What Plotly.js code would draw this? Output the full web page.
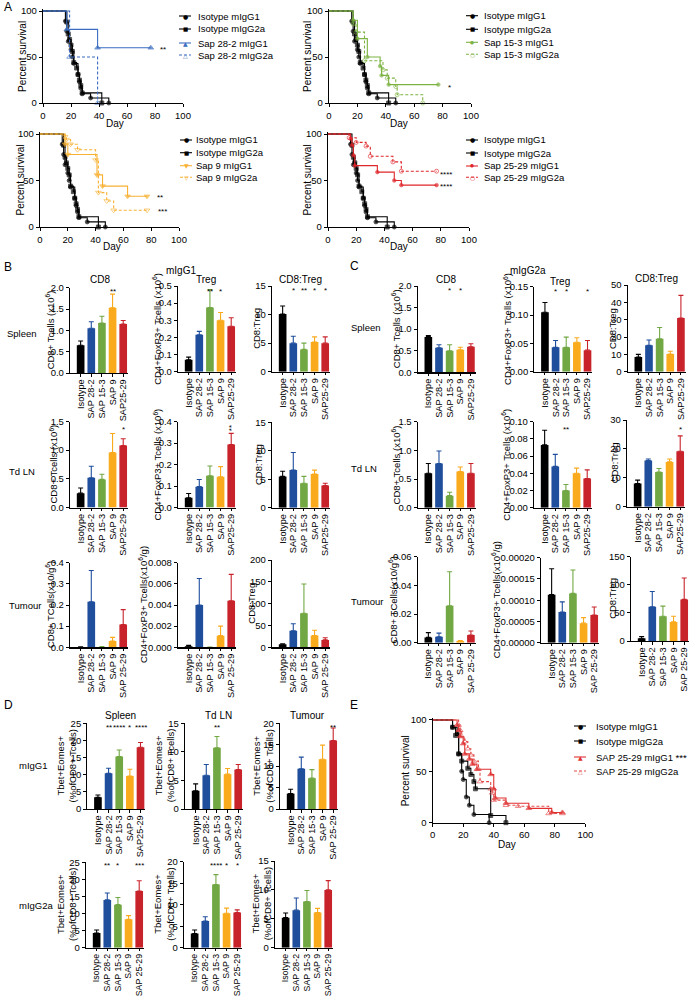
<!DOCTYPE html>
<html><head><meta charset="utf-8">
<script src="https://cdn.plot.ly/plotly-3.0.1.min.js"></script>
<style>html,body{margin:0;padding:0;background:#fff}#chart{width:692px;height:997px}</style>
</head><body><div id="chart"></div>
<script>
// ================= DATA =================
// Survival (Kaplan-Meier) curves: day of event, percent survival
const iso_g1_day  = [0,16,17,18,20,21,22,25,26,27,28,34,47];
const iso_g1_surv = [100,89,78,67,58,50,43,31,23,16,10,5.5,0];
const iso_g2a_day  = [0,17,18,19,20,21,22,24,25,26,27,28,42];
const iso_g2a_surv = [100,88,75,69,63,56,44,38,31,25,19,11,0];

const sap28_g1_day = [0,17,39,77];
const sap28_g1_surv = [100,80,60,60];
const sap28_g2a_day = [0,19,39];
const sap28_g2a_surv = [100,50,0];

const sap15_g1_day = [0,17,20,27,36,37,42,77];
const sap15_g1_surv = [100,90,70,50,40,30,20,20];
const sap15_g2a_day = [0,17,19,25,38,41,47,48,66];
const sap15_g2a_surv = [100,86,77,46,36,27,18,9,0];

const sap9_g1_day = [0,18,20,41,45,63,77];
const sap9_g1_surv = [100,89,78,56,44,33,33];
const sap9_g2a_day = [0,18,19,22,27,40,42,48,53,77];
const sap9_g2a_surv = [100,97,94,89,83,72,37,28,18,18];

const sap2529_g1_day = [0,16,17,18,19,35,47,52,77];
const sap2529_g1_surv = [100,95,88,77,66,59,50,45,45];
const sap2529_g2a_day = [0,15,20,27,30,46,52,77];
const sap2529_g2a_surv = [100,96,91,87,76,70,60,60];

// Panel E survival
const E_iso_g1_day  = [0,13,16,17,19,20,22,24,27,37];
const E_iso_g1_surv = [100,93,87,67,50,42,25,17,8,0];
const E_iso_g2a_day  = [0,13,15,17,19,23,25,27,28,38,48];
const E_iso_g2a_surv = [100,93,85,67,60,53,47,40,33,7,0];
const E_sap_g1_day  = [0,16,17,18,20,21,24,26,29,38,40,41,48,63,78,85];
const E_sap_g1_surv = [100,95,90,84,77,67,62,57,52,47,33,24,19,14,10,10];
const E_sap_g2a_day  = [0,17,18,19,21,23,25,27,30,31,38,39,40,48,56,76,85];
const E_sap_g2a_surv = [100,95,90,84,79,72,66,60,52,40,33,29,22,17,16,9,9];

// Bar chart categories
const cats  = ['Isotype','SAP 28-2','SAP 15-3','SAP 9','SAP25-29'];
const catsT = ['Isotype','SAP 28-2','SAP 15-3','SAP 9','SAP 25-29'];

// Panel B (mIgG1): mean and SEM
const B_spleen_CD8 = [0.65,1.05,1.17,1.53,1.15];
const B_spleen_CD8_err = [0.10,0.15,0.16,0.32,0.08];
const B_spleen_Treg = [0.07,0.215,0.375,0.30,0.265];
const B_spleen_Treg_err = [0.015,0.02,0.105,0.045,0.05];
const B_spleen_ratio = [10.1,5.0,3.9,5.2,5.0];
const B_spleen_ratio_err = [1.4,1.2,1.1,0.9,1.1];
const B_td_CD8 = [0.25,0.52,0.49,0.96,1.08];
const B_td_CD8_err = [0.09,0.20,0.09,0.33,0.12];
const B_td_Treg = [0.045,0.097,0.148,0.143,0.293];
const B_td_Treg_err = [0.02,0.033,0.045,0.047,0.052];
const B_td_ratio = [5.5,6.6,4.3,5.9,3.9];
const B_td_ratio_err = [0.9,3.1,1.2,0.7,0.4];
const B_tu_CD8 = [0.001,0.215,0.002,0.03,0.108];
const B_tu_CD8_err = [0.001,0.148,0.001,0.017,0.07];
const B_tu_Treg = [0.0001,0.004,0.00002,0.0011,0.0044];
const B_tu_Treg_err = [0.0001,0.0025,0,0.0009,0.0025];
const B_tu_ratio = [7,38,78,27,17];
const B_tu_ratio_err = [1,16,67,12,5];

// Panel C (mIgG2a): mean and SEM
const C_spleen_CD8 = [0.82,0.57,0.50,0.52,0.59];
const C_spleen_CD8_err = [0.03,0.07,0.14,0.06,0.07];
const C_spleen_Treg = [0.105,0.043,0.043,0.052,0.038];
const C_spleen_Treg_err = [0.017,0.012,0.018,0.008,0.017];
const C_spleen_ratio = [8.5,15.2,19,10.2,31];
const C_spleen_ratio_err = [1.5,3.1,6.5,1.6,13];
const C_td_CD8 = [0.60,0.77,0.21,0.63,0.60];
const C_td_CD8_err = [0.17,0.22,0.06,0.08,0.17];
const C_td_Treg = [0.073,0.048,0.020,0.040,0.034];
const C_td_Treg_err = [0.017,0.014,0.007,0.006,0.010];
const C_td_ratio = [8.0,16.0,12.0,15.5,19.2];
const C_td_ratio_err = [1.2,0.5,1.2,1.0,5.3];
const C_tu_CD8 = [0.0037,0.0042,0.0258,0.0012,0.0054];
const C_tu_CD8_err = [0.0033,0.0025,0.0237,0.0003,0.0028];
const C_tu_Treg = [0.000113,0.000072,0.000116,0.000046,0.000065];
const C_tu_Treg_err = [0.000061,0.000024,0.000055,0.000013,0.000019];
const C_tu_ratio = [5,61,44,34,74];
const C_tu_ratio_err = [3,27,18,10,38];

// Panel D: Tbet+Eomes+ (% of CD8+ T cells)
const D_g1_spleen = [3.4,10.4,15.3,9.6,18.0];
const D_g1_spleen_err = [0.7,1.5,1.9,2.0,1.4];
const D_g1_td = [3.2,5.9,10.7,6.1,6.9];
const D_g1_td_err = [1.2,1.9,2.0,1.0,0.9];
const D_g1_tu = [3.6,9.4,7.2,11.6,16.0];
const D_g1_tu_err = [1.0,2.7,2.0,3.3,2.9];
const D_g2a_spleen = [4.3,14.0,12.6,8.3,16.6];
const D_g2a_spleen_err = [0.9,2.0,2.1,1.1,3.0];
const D_g2a_td = [3.3,6.2,14.7,8.0,8.2];
const D_g2a_td_err = [0.8,1.0,2.3,1.2,0.6];
const D_g2a_tu = [5.2,6.5,8.0,6.1,10.0];
const D_g2a_tu_err = [0.8,2.1,1.9,0.7,1.6];

// ================= LAYOUT HELPERS =================
const W = 692, H = 997;
const px = x => x / W;
const py = y => 1 - y / H;
const FONT = 'Liberation Sans, Arial, Helvetica, sans-serif';
const barColors = ['#000000','#1f4e9d','#72a844','#f9aa1d','#c8232b'];

const data = [];
const layout = {
  width: W, height: H, margin:{l:0,r:0,t:0,b:0},
  paper_bgcolor:'#ffffff', plot_bgcolor:'rgba(0,0,0,0)',
  showlegend:false, barmode:'overlay',
  font:{family:FONT, size:9.5, color:'#000'},
  annotations:[], shapes:[]
};
const baseAxis = {showline:true, linecolor:'#000', linewidth:1.2, ticks:'outside', ticklen:3,
  tickwidth:1, tickcolor:'#000', showgrid:false, zeroline:false, fixedrange:true,
  tickfont:{size:9.5, color:'#000', family:FONT}};

let axCount = 0;
function makeAxes(xd, yd, xo, yo){
  axCount++;
  const s = axCount === 1 ? '' : String(axCount);
  layout['xaxis'+s] = Object.assign({}, baseAxis, {domain:xd, anchor:'y'+s}, xo);
  layout['yaxis'+s] = Object.assign({}, baseAxis, {domain:yd, anchor:'x'+s}, yo);
  return {x:'x'+s, y:'y'+s};
}
function text(x, y, t, o){
  layout.annotations.push(Object.assign({xref:'paper', yref:'paper', x:px(x), y:py(y), text:t,
    showarrow:false, xanchor:'center', yanchor:'middle', font:{size:9.5, color:'#000', family:FONT}}, o||{}));
}

function barPanel(o){
  const w = o.w || 58;
  const ax = makeAxes([px(o.x0), px(o.x0+w)], [py(o.y0), py(o.yT)],
    {type:'category', categoryorder:'array', categoryarray:o.cats, range:[-1, 4.45], tickangle:-90,
     tickmode:'array', tickvals:o.cats, ticktext:o.cats, ticklen:2.5, ticklabelstandoff:-1,
     tickfont:{size:o.xfs || 9.2, color:'#000', family:FONT}},
    {range:[0, o.top], dtick:o.dtick, tick0:0, tickformat:o.fmt || ''});
  o.cats.forEach((c, i) => {
    data.push({type:'bar', x:[c], y:[o.vals[i]], xaxis:ax.x, yaxis:ax.y, width:0.72,
      marker:{color:barColors[i], line:{width:0}},
      error_y:{type:'data', symmetric:false, array:[o.err[i]], arrayminus:[0],
               color:barColors[i], thickness:1.1, width:2.5},
      hoverinfo:'skip', showlegend:false});
  });
  text(o.x0 + o.tdx, (o.y0 + o.yT)/2 + (o.tdy || 0), o.ytitle, {textangle:-90});
  (o.stars || []).forEach(st => {
    layout.annotations.push({xref:ax.x, yref:'paper', x:o.cats[st[0]], y:py(o.sy + 2), text:st[1],
      showarrow:false, xanchor:'center', yanchor:'middle', textangle: st[2] || 0,
      font:{size:8, color:'#000', family:FONT}});
  });
}

function survPanel(o){
  const top = o.y0 - (o.y0 - o.y100) * 1.02;
  const ax = makeAxes([px(o.x0), px(o.x100)], [py(o.y0), py(top)],
    {range:[0,100], dtick:20, tick0:0}, {range:[0,102], tickvals:[0,50,100]});
  o.curves.forEach(c => {
    data.push({type:'scatter', mode:'lines+markers', x:c.t, y:c.s, xaxis:ax.x, yaxis:ax.y,
      line:{shape:'hv', color:c.color, width:1.1, dash:c.dash || 'solid'},
      marker:{symbol:c.sym, size:c.t.map((v,i) => i === 0 ? 0 : (c.size || 4)), color:c.color,
              line:{color:c.color, width:0.9}},
      cliponaxis:false, hoverinfo:'skip', showlegend:false});
  });
  text(o.ylabx, (o.y0 + o.y100)/2, 'Percent survival', {textangle:-90, font:{size:10, family:FONT, color:'#000'}});
  text(o.dayx, o.dayy, 'Day', {font:{size:10, family:FONT, color:'#000'}});
  // legend
  o.curves.forEach((c, i) => {
    const y = o.leg.rows[i];
    layout.shapes.push({type:'line', xref:'paper', yref:'paper', x0:px(o.leg.gx - 6), x1:px(o.leg.gx + 6),
      y0:py(y), y1:py(y), line:{color:c.color, width:1.1, dash:c.dash || 'solid'}});
    text(o.leg.gx, y, c.glyph, {font:{size:c.gsize || 6, color:c.color, family:'DejaVu Sans'}});
    text(o.leg.tx, y, c.name + (c.legStar || ''), {xanchor:'left'});
  });
  (o.stars || []).forEach(st => text(st[0], st[1] + 2, st[2], {font:{size:8, color:'#000', family:FONT}}));
}

const isoCurves = (g1t, g1s, g2t, g2s) => [
  {name:'Isotype mIgG1', t:g1t, s:g1s, color:'#000', sym:'circle', glyph:'●'},
  {name:'Isotype mIgG2a', t:g2t, s:g2s, color:'#000', sym:'square', glyph:'■', gsize:5.5}
];
const DASH = '3px,2px';

// ================= PANEL A =================
survPanel({x0:43, x100:183, y0:103, y100:11, ylabx:22, dayx:115, dayy:123,
  curves: isoCurves(iso_g1_day, iso_g1_surv, iso_g2a_day, iso_g2a_surv).concat([
    {name:'Sap 28-2 mIgG1', t:sap28_g1_day, s:sap28_g1_surv, color:'#3a6cc0', sym:'triangle-up', glyph:'▲', size:5},
    {name:'Sap 28-2 mIgG2a', t:sap28_g2a_day, s:sap28_g2a_surv, color:'#3a6cc0', sym:'triangle-up-open', glyph:'△', dash:DASH, size:5}]),
  leg:{gx:185, tx:196, rows:[16,29,43,55]}, stars:[[163,48,'**']]});

survPanel({x0:329, x100:471, y0:103, y100:11, ylabx:307, dayx:399, dayy:123,
  curves: isoCurves(iso_g1_day, iso_g1_surv, iso_g2a_day, iso_g2a_surv).concat([
    {name:'Sap 15-3 mIgG1', t:sap15_g1_day, s:sap15_g1_surv, color:'#7cb342', sym:'circle', glyph:'●', size:3.5, gsize:4.5},
    {name:'Sap 15-3 mIgG2a', t:sap15_g2a_day, s:sap15_g2a_surv, color:'#7cb342', sym:'circle-open', glyph:'○', dash:DASH}]),
  leg:{gx:472, tx:482, rows:[15.7,29.3,42.3,54.3]}, stars:[[449,85,'*']]});

survPanel({x0:40, x100:179, y0:227, y100:134, ylabx:20, dayx:112, dayy:246,
  curves: isoCurves(iso_g1_day, iso_g1_surv, iso_g2a_day, iso_g2a_surv).concat([
    {name:'Sap 9 mIgG1', t:sap9_g1_day, s:sap9_g1_surv, color:'#f8b133', sym:'triangle-down', glyph:'▼', size:5},
    {name:'Sap 9 mIgG2a', t:sap9_g2a_day, s:sap9_g2a_surv, color:'#f8b133', sym:'triangle-down-open', glyph:'▽', dash:DASH, size:5}]),
  leg:{gx:186, tx:194, rows:[140,152.7,165.7,177.3]}, stars:[[160,195.7,'**'],[162,210,'***']]});

survPanel({x0:328, x100:469, y0:227, y100:134, ylabx:307, dayx:399, dayy:246,
  curves: isoCurves(iso_g1_day, iso_g1_surv, iso_g2a_day, iso_g2a_surv).concat([
    {name:'Sap 25-29 mIgG1', t:sap2529_g1_day, s:sap2529_g1_surv, color:'#e0262b', sym:'circle', glyph:'●', size:3.5, gsize:4.5},
    {name:'Sap 25-29 mIgG2a', t:sap2529_g2a_day, s:sap2529_g2a_surv, color:'#e0262b', sym:'circle-open', glyph:'○', dash:DASH}]),
  leg:{gx:472, tx:482, rows:[140,153,166,177.3]}, stars:[[446,172.3,'****'],[446,185,'****']]});

// ================= PANEL B =================
const yt8 = 'CD8+ Tcells (x10<sup>6</sup>)';
const ytT = 'CD4+FoxP3+ Tcells (x10<sup>6</sup>)';
const yt8g = 'CD8+ TCells(x10/g<sup>6</sup>)';
const ytTg = 'CD4+FoxP3+ Tcells(x10<sup>6</sup>/g)';
barPanel({cats:cats, vals:B_spleen_CD8, err:B_spleen_CD8_err, x0:70, yT:287.7, y0:373, top:2, dtick:0.5, fmt:'.1f', tdx:-20, ytitle:yt8, stars:[[3,'**']], sy:289});
barPanel({cats:cats, vals:B_spleen_Treg, err:B_spleen_Treg_err, x0:178, yT:286, y0:371.7, top:0.5, dtick:0.1, fmt:'.1f', tdx:-21, ytitle:ytT, stars:[[2,'**'],[3,'*']], sy:289});
barPanel({cats:cats, vals:B_spleen_ratio, err:B_spleen_ratio_err, x0:272, yT:286, y0:371.7, top:15, dtick:5, tdx:-15, ytitle:'CD8:Treg', stars:[[1,'*'],[2,'**'],[3,'*'],[4,'*']], sy:288});
barPanel({cats:cats, vals:B_td_CD8, err:B_td_CD8_err, x0:70, yT:421.5, y0:507.5, top:1.5, dtick:0.5, fmt:'.1f', tdx:-17, ytitle:yt8, stars:[[4,'*']], sy:428});
barPanel({cats:cats, vals:B_td_Treg, err:B_td_Treg_err, x0:178, yT:421.5, y0:507.5, top:0.4, dtick:0.1, fmt:'.1f', tdx:-21, ytitle:ytT, stars:[[4,'**',-90]], sy:426});
barPanel({cats:cats, vals:B_td_ratio, err:B_td_ratio_err, x0:272, yT:422.3, y0:507.7, top:15, dtick:5, tdx:-14, ytitle:'CD8:Treg'});
barPanel({cats:catsT, vals:B_tu_CD8, err:B_tu_CD8_err, x0:70, yT:562.7, y0:647.3, top:0.4, dtick:0.1, fmt:'.1f', tdx:-20, ytitle:yt8g});
barPanel({cats:catsT, vals:B_tu_Treg, err:B_tu_Treg_err, x0:178, yT:562.7, y0:647.3, top:0.008, dtick:0.002, fmt:'.3f', tdx:-35, ytitle:ytTg});
barPanel({cats:catsT, vals:B_tu_ratio, err:B_tu_ratio_err, x0:272, yT:560, y0:647.3, top:200, dtick:50, tdx:-20, ytitle:'CD8:Treg'});

// ================= PANEL C =================
barPanel({cats:cats, vals:C_spleen_CD8, err:C_spleen_CD8_err, x0:417.7, yT:286, y0:372.3, top:2, dtick:0.5, fmt:'.1f', tdx:-21.7, ytitle:yt8, stars:[[2,'*'],[3,'*']], sy:288});
barPanel({cats:cats, vals:C_spleen_Treg, err:C_spleen_Treg_err, x0:534.3, yT:286.7, y0:371.7, top:0.15, dtick:0.05, fmt:'.2f', tdx:-26.6, ytitle:ytT, stars:[[1,'*'],[2,'*'],[4,'*']], sy:289});
barPanel({cats:cats, vals:C_spleen_ratio, err:C_spleen_ratio_err, x0:627.7, yT:285, y0:371.7, top:50, dtick:10, tdx:-15, ytitle:'CD8:Treg'});
barPanel({cats:cats, vals:C_td_CD8, err:C_td_CD8_err, x0:417.7, yT:421.7, y0:507.7, top:1.5, dtick:0.5, fmt:'.1f', tdx:-22, ytitle:yt8});
barPanel({cats:cats, vals:C_td_Treg, err:C_td_Treg_err, x0:534, yT:421.7, y0:507.7, top:0.1, dtick:0.02, fmt:'.2f', tdx:-28, ytitle:ytT, stars:[[2,'**']], sy:428});
barPanel({cats:cats, vals:C_td_ratio, err:C_td_ratio_err, x0:627, yT:420, y0:506.7, top:30, dtick:10, tdx:-13, ytitle:'CD8:Treg', stars:[[4,'*']], sy:427});
barPanel({cats:catsT, vals:C_tu_CD8, err:C_tu_CD8_err, x0:417.7, yT:556.7, y0:642.7, top:0.06, dtick:0.02, fmt:'.2f', tdx:-25, ytitle:yt8g});
barPanel({cats:catsT, vals:C_tu_Treg, err:C_tu_Treg_err, x0:541, yT:557.7, y0:642.7, top:0.0002, dtick:0.00005, fmt:'.5f', tdx:-45, ytitle:ytTg});
barPanel({cats:catsT, vals:C_tu_ratio, err:C_tu_ratio_err, x0:631, yT:556.7, y0:641, top:150, dtick:50, tdx:-18, ytitle:'CD8:Treg'});

// ================= PANEL D =================
const ytD = 'Tbet+Eomes+<br>(%ofCD8+ Tcells)';
barPanel({cats:cats, vals:D_g1_spleen, err:D_g1_spleen_err, x0:87.3, yT:723.3, y0:809, top:25, dtick:5, tdx:-21, ytitle:ytD, stars:[[1,'**'],[2,'****'],[3,'*'],[4,'****']], sy:725});
barPanel({cats:catsT, vals:D_g1_td, err:D_g1_td_err, x0:185, yT:723.3, y0:809, top:15, dtick:5, tdx:-21, ytitle:ytD, stars:[[2,'**']], sy:725});
barPanel({cats:catsT, vals:D_g1_tu, err:D_g1_tu_err, x0:280, yT:723.3, y0:809, top:20, dtick:5, tdx:-17.5, ytitle:ytD, stars:[[4,'**']], sy:725});
barPanel({cats:catsT, vals:D_g2a_spleen, err:D_g2a_spleen_err, x0:86, yT:862.3, y0:947.7, top:25, dtick:5, tdx:-20, ytitle:ytD, stars:[[1,'**'],[2,'*'],[4,'***']], sy:863, xfs:8.8});
barPanel({cats:catsT, vals:D_g2a_td, err:D_g2a_td_err, x0:184, yT:861.7, y0:947.7, top:20, dtick:5, tdx:-20, ytitle:ytD, stars:[[2,'****'],[3,'*'],[4,'*']], sy:863, xfs:8.8});
barPanel({cats:catsT, vals:D_g2a_tu, err:D_g2a_tu_err, x0:275, yT:861, y0:947.7, top:15, dtick:5, tdx:-14, ytitle:ytD, xfs:8.8});

// ================= PANEL E =================
survPanel({x0:432.7, x100:585.3, y0:822.7, y100:720, ylabx:405, dayx:507, dayy:844,
  curves:[
    {name:'Isotype mIgG1', t:E_iso_g1_day, s:E_iso_g1_surv, color:'#000', sym:'circle', glyph:'●'},
    {name:'Isotype mIgG2a', t:E_iso_g2a_day, s:E_iso_g2a_surv, color:'#000', sym:'square', glyph:'■', gsize:5.5},
    {name:'SAP 25-29 mIgG1', t:E_sap_g1_day, s:E_sap_g1_surv, color:'#e03030', sym:'triangle-up', glyph:'▲', size:5, legStar:' ***'},
    {name:'SAP 25-29 mIgG2a', t:E_sap_g2a_day, s:E_sap_g2a_surv, color:'#e34a4a', sym:'triangle-up-open', glyph:'△', dash:DASH, size:5}],
  leg:{gx:580, tx:594, rows:[726,741,757,771]}});

// ================= LABELS =================
const big = {font:{size:12, color:'#000', family:FONT}, xanchor:'left'};
text(2, 7, 'A', big); text(2, 267, 'B', big); text(348, 266, 'C', big);
text(2, 705, 'D', big); text(348, 705, 'E', big);
const t10 = {font:{size:10, color:'#000', family:FONT}};
text(181, 270, 'mIgG1', t10); text(100, 280, 'CD8', t10); text(206, 280, 'Treg', t10); text(300, 280, 'CD8:Treg', t10);
text(528, 271, 'mIgG2a', t10); text(446, 280, 'CD8', t10); text(560, 281, 'Treg', t10); text(656, 278, 'CD8:Treg', t10);
text(5, 333, 'Spleen', {xanchor:'left'}); text(7, 472, 'Td LN', {xanchor:'left'}); text(7, 605, 'Tumour', {xanchor:'left'});
text(349, 328, 'Spleen', {xanchor:'left'}); text(349, 468, 'Td LN', {xanchor:'left'}); text(349, 601, 'Tumour', {xanchor:'left'});
text(120, 715, 'Spleen', t10); text(218, 715, 'Td LN', t10); text(307, 715, 'Tumour', t10);
text(17, 765, 'mIgG1', {xanchor:'left'}); text(17, 905, 'mIgG2a', {xanchor:'left'});

Plotly.newPlot('chart', data, layout, {staticPlot:true, displayModeBar:false});
</script></body></html>
